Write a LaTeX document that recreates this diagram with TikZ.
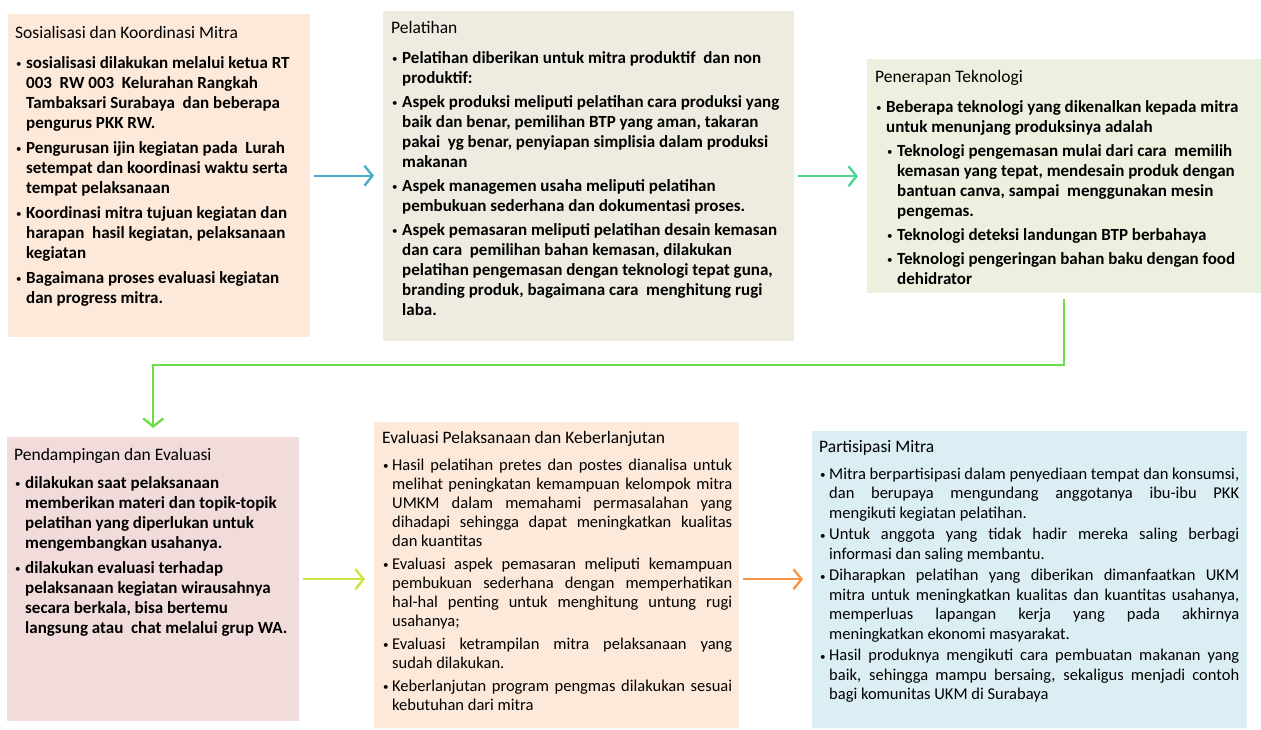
\documentclass[tikz,border=0pt]{standalone}
\usepackage{fontspec}
\setmainfont{Carlito}
\usepackage{tikz}
\usetikzlibrary{arrows.meta,positioning}
\usepackage{xcolor}
\definecolor{pkpeach}{RGB}{253,233,217}
\definecolor{pkbeige}{RGB}{238,236,225}
\definecolor{pkolive}{RGB}{235,241,222}
\definecolor{pkpink}{RGB}{242,220,219}
\definecolor{pkblue}{RGB}{219,238,243}
\definecolor{arblue}{RGB}{75,172,198}
\definecolor{arteal}{RGB}{75,216,142}
\definecolor{argreen}{RGB}{108,221,74}
\definecolor{arlime}{RGB}{200,230,60}
\definecolor{arorange}{RGB}{247,150,70}
\tikzstyle{panel} = [rectangle, anchor=north west, inner xsep=7pt, inner ysep=0pt, text=black]
\tikzstyle{arrow} = [line width=2.4pt, -{Straight Barb[length=8pt,width=20pt]}, shorten <=4pt, shorten >=9pt]
\newlength\jw
\newcommand{\bdot}{\raisebox{0.5pt}{\mdseries\fontsize{11}{11}\selectfont\textbullet}}
\newcommand{\bul}[1]{\par\noindent\hangindent=#1\hangafter=1\makebox[#1][l]{\hspace{1pt}\bdot}}
\newcommand{\subbul}{\par\noindent\hangindent=22pt\hangafter=1\hspace{12pt}\makebox[10pt][l]{\bdot}}
\newcommand{\jl}[1]{\hbox to \jw{#1}\break}
\newcommand{\ttl}[2]{\noindent\rule{0pt}{#1}{\fontsize{17.5}{20}\selectfont #2}\par}

\begin{document}
\begin{tikzpicture}[x=1pt,y=-1pt]
\useasboundingbox (0,0) rectangle (1261,729);

% Top row
\node (sosialisasi) [panel, fill=pkpeach] at (8,14) {\parbox[c][323pt][t]{288pt}{\fontsize{17}{20}\selectfont\raggedright\parskip=5pt
\ttl{24pt}{Sosialisasi dan Koordinasi Mitra}\vspace{5pt}\bfseries
\bul{11pt}sosialisasi dilakukan melalui ketua RT\newline 003\ \ RW 003\ \ Kelurahan Rangkah\newline Tambaksari Surabaya\ \ dan beberapa\newline pengurus PKK RW.
\bul{11pt}Pengurusan ijin kegiatan pada\ \ Lurah\newline setempat dan koordinasi waktu serta\newline tempat pelaksanaan
\bul{11pt}Koordinasi mitra tujuan kegiatan dan\newline harapan\ \ hasil kegiatan, pelaksanaan\newline kegiatan
\bul{11pt}Bagaimana proses evaluasi kegiatan\newline dan progress mitra.\par}};

\node (pelatihan) [panel, fill=pkbeige, inner xsep=8pt] at (383,11) {\parbox[c][330pt][t]{395pt}{\fontsize{17}{20}\selectfont\raggedright\parskip=4pt
\ttl{22pt}{Pelatihan}\vspace{6pt}\bfseries
\bul{11pt}Pelatihan diberikan untuk mitra produktif\ \ dan non\newline produktif:
\bul{11pt}Aspek produksi meliputi pelatihan cara produksi yang\newline baik dan benar, pemilihan BTP yang aman, takaran\newline pakai\ \ yg\ benar, penyiapan simplisia dalam produksi\newline makanan
\bul{11pt}Aspek managemen usaha meliputi pelatihan\newline pembukuan sederhana dan dokumentasi proses.
\bul{11pt}Aspek pemasaran meliputi pelatihan desain kemasan\newline dan cara\ \ pemilihan bahan kemasan, dilakukan\newline pelatihan pengemasan dengan teknologi tepat guna,\newline branding produk, bagaimana cara\ \ menghitung rugi\newline laba.\par}};

\node (teknologi) [panel, fill=pkolive, inner xsep=8pt] at (867,59) {\parbox[c][234pt][t]{378pt}{\fontsize{17}{20}\selectfont\raggedright\parskip=4pt
\ttl{23pt}{Penerapan Teknologi}\vspace{6pt}\bfseries
\bul{11pt}Beberapa teknologi yang dikenalkan kepada mitra\newline untuk menunjang produksinya adalah
\subbul Teknologi pengemasan mulai dari cara\ \ memilih\newline kemasan yang tepat, mendesain produk dengan\newline bantuan canva, sampai\ \ menggunakan mesin\newline pengemas.
\subbul Teknologi deteksi landungan BTP berbahaya
\subbul Teknologi pengeringan bahan baku dengan food\newline dehidrator\par}};

% Bottom row
\node (pendampingan) [panel, fill=pkpink] at (7,437) {\parbox[c][284pt][t]{278pt}{\fontsize{17}{20}\selectfont\raggedright\parskip=5pt
\ttl{23pt}{Pendampingan dan Evaluasi}\vspace{3pt}\bfseries
\bul{11pt}dilakukan saat\ pelaksanaan\newline memberikan materi dan topik-topik\newline pelatihan yang diperlukan untuk\newline mengembangkan usahanya.
\bul{11pt}dilakukan evaluasi terhadap\newline pelaksanaan kegiatan wirausahnya\newline secara berkala, bisa bertemu\newline langsung atau\ \ chat melalui grup WA.\par}};

\node (evaluasi) [panel, fill=pkpeach, inner xsep=8pt] at (374,422) {\parbox[c][306pt][t]{349pt}{\fontsize{16.5}{19}\selectfont\parskip=4pt\setlength\jw{340pt}
\ttl{21pt}{Evaluasi Pelaksanaan dan Keberlanjutan}\vspace{4pt}
\bul{10pt}\jl{Hasil pelatihan pretes dan postes dianalisa untuk}\jl{melihat peningkatan kemampuan kelompok mitra}\jl{UMKM dalam memahami permasalahan yang}\jl{dihadapi sehingga dapat meningkatkan kualitas}dan kuantitas
\bul{10pt}\jl{Evaluasi aspek pemasaran meliputi kemampuan}\jl{pembukuan sederhana dengan memperhatikan}\jl{hal-hal penting untuk menghitung untung rugi}usahanya;
\bul{10pt}\jl{Evaluasi ketrampilan mitra pelaksanaan yang}sudah dilakukan.
\bul{10pt}\jl{Keberlanjutan program pengmas dilakukan sesuai}kebutuhan dari mitra\par}};

\node (partisipasi) [panel, fill=pkblue] at (812,431) {\parbox[c][297pt][t]{421pt}{\fontsize{16.5}{19.5}\selectfont\parskip=2pt\setlength\jw{410pt}
\ttl{21pt}{Partisipasi Mitra}\vspace{5.5pt}
\bul{10pt}\jl{Mitra berpartisipasi dalam penyediaan tempat dan konsumsi,}\jl{dan berupaya mengundang anggotanya ibu-ibu PKK}mengikuti kegiatan pelatihan.
\bul{10pt}\jl{Untuk anggota yang tidak hadir mereka saling berbagi}informasi dan saling membantu.
\bul{10pt}\jl{Diharapkan pelatihan yang diberikan dimanfaatkan UKM}\jl{mitra untuk meningkatkan kualitas dan kuantitas usahanya,}\jl{memperluas lapangan kerja yang pada akhirnya}meningkatkan ekonomi masyarakat.
\bul{10pt}\jl{Hasil produknya mengikuti cara pembuatan makanan yang}\jl{baik, sehingga mampu bersaing, sekaligus menjadi contoh}bagi komunitas UKM di Surabaya\par}};

% Connectors
\draw[arrow, arblue] (sosialisasi.east) -- (sosialisasi.east -| pelatihan.west);
\draw[arrow, arteal] (pelatihan.east) -- (pelatihan.east -| teknologi.west);
\draw[arrow, argreen, shorten <=6pt] (teknologi.south) -- (teknologi.south |- 0,365) -| (pendampingan.north);
\draw[arrow, arlime] (pendampingan.east) -- (pendampingan.east -| evaluasi.west);
\draw[arrow, arorange] (evaluasi.east |- pendampingan.east) -- (partisipasi.west |- pendampingan.east);
\end{tikzpicture}
\end{document}
